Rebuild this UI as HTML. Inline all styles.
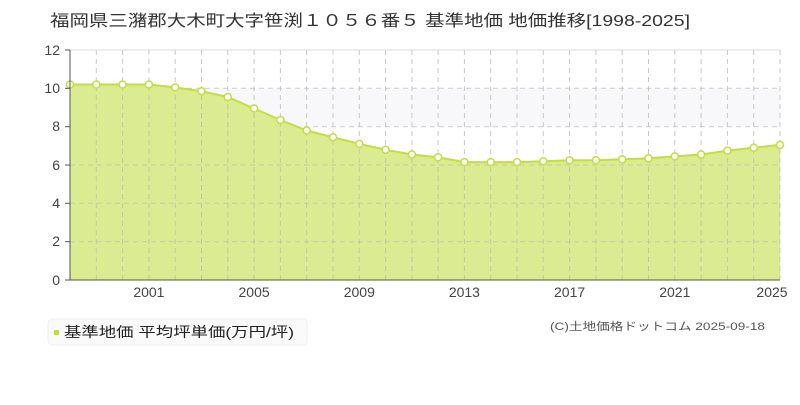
<!DOCTYPE html>
<html><head><meta charset="utf-8"><style>
body{margin:0;background:#fff;width:800px;height:400px;overflow:hidden}
text{font-family:"Liberation Sans","Noto Sans CJK JP",sans-serif}
</style></head><body>
<svg width="800" height="400" xmlns="http://www.w3.org/2000/svg">
<text x="50" y="26" font-size="16" fill="#333" textLength="640" lengthAdjust="spacingAndGlyphs">福岡県三潴郡大木町大字笹渕１０５６番５ 基準地価 地価推移[1998-2025]</text>
<rect x="70" y="88.3" width="710" height="38.3" fill="#f8f8fa"/>
<g stroke="#ccc" stroke-dasharray="5,4" stroke-width="1">
<line x1="70" y1="88.3" x2="780" y2="88.3"/><line x1="70" y1="126.7" x2="780" y2="126.7"/>
<line x1="70" y1="165" x2="780" y2="165"/><line x1="70" y1="203.3" x2="780" y2="203.3"/>
<line x1="70" y1="241.7" x2="780" y2="241.7"/>
</g>
<line x1="70" y1="50" x2="780" y2="50" stroke="#ddd"/>
<polygon fill="#dbeb91" points="70,280 70,84.5 96.3,84.5 122.6,84.5 148.9,84.5 175.2,87.4 201.5,91.2 227.8,97 254.1,108.5 280.4,120 306.7,130.5 333,137.2 359.3,143.9 385.6,149.7 411.9,154.5 438.1,157.3 464.4,162.1 490.7,162.1 517,162.1 543.3,161.2 569.6,160.2 595.9,160.2 622.2,159.3 648.5,158.3 674.8,156.4 701.1,154.5 727.4,150.6 753.7,147.7 780,144.9 780,280"/>
<g stroke="#bbb" stroke-dasharray="5,4" stroke-width="1" opacity="0.8">
<line x1="96.3" y1="50" x2="96.3" y2="280"/><line x1="122.6" y1="50" x2="122.6" y2="280"/><line x1="148.9" y1="50" x2="148.9" y2="280"/><line x1="175.2" y1="50" x2="175.2" y2="280"/><line x1="201.5" y1="50" x2="201.5" y2="280"/><line x1="227.8" y1="50" x2="227.8" y2="280"/><line x1="254.1" y1="50" x2="254.1" y2="280"/><line x1="280.4" y1="50" x2="280.4" y2="280"/><line x1="306.7" y1="50" x2="306.7" y2="280"/><line x1="333" y1="50" x2="333" y2="280"/><line x1="359.3" y1="50" x2="359.3" y2="280"/><line x1="385.6" y1="50" x2="385.6" y2="280"/><line x1="411.9" y1="50" x2="411.9" y2="280"/><line x1="438.1" y1="50" x2="438.1" y2="280"/><line x1="464.4" y1="50" x2="464.4" y2="280"/><line x1="490.7" y1="50" x2="490.7" y2="280"/><line x1="517" y1="50" x2="517" y2="280"/><line x1="543.3" y1="50" x2="543.3" y2="280"/><line x1="569.6" y1="50" x2="569.6" y2="280"/><line x1="595.9" y1="50" x2="595.9" y2="280"/><line x1="622.2" y1="50" x2="622.2" y2="280"/><line x1="648.5" y1="50" x2="648.5" y2="280"/><line x1="674.8" y1="50" x2="674.8" y2="280"/><line x1="701.1" y1="50" x2="701.1" y2="280"/><line x1="727.4" y1="50" x2="727.4" y2="280"/><line x1="753.7" y1="50" x2="753.7" y2="280"/><line x1="780" y1="50" x2="780" y2="280"/>
</g>
<g stroke="#bbb" stroke-dasharray="5,4" stroke-width="1" opacity="0.7">
<line x1="70" y1="165" x2="780" y2="165"/><line x1="70" y1="203.3" x2="780" y2="203.3"/><line x1="70" y1="241.7" x2="780" y2="241.7"/>
</g>
<polyline fill="none" stroke="#c3df3a" stroke-width="2" points="70,84.5 96.3,84.5 122.6,84.5 148.9,84.5 175.2,87.4 201.5,91.2 227.8,97 254.1,108.5 280.4,120 306.7,130.5 333,137.2 359.3,143.9 385.6,149.7 411.9,154.5 438.1,157.3 464.4,162.1 490.7,162.1 517,162.1 543.3,161.2 569.6,160.2 595.9,160.2 622.2,159.3 648.5,158.3 674.8,156.4 701.1,154.5 727.4,150.6 753.7,147.7 780,144.9"/>
<g fill="#fff" stroke="#c3df3a" stroke-width="1.5">
<circle cx="70" cy="84.5" r="3.5"/><circle cx="96.3" cy="84.5" r="3.5"/><circle cx="122.6" cy="84.5" r="3.5"/><circle cx="148.9" cy="84.5" r="3.5"/><circle cx="175.2" cy="87.4" r="3.5"/><circle cx="201.5" cy="91.2" r="3.5"/><circle cx="227.8" cy="97" r="3.5"/><circle cx="254.1" cy="108.5" r="3.5"/><circle cx="280.4" cy="120" r="3.5"/><circle cx="306.7" cy="130.5" r="3.5"/><circle cx="333" cy="137.2" r="3.5"/><circle cx="359.3" cy="143.9" r="3.5"/><circle cx="385.6" cy="149.7" r="3.5"/><circle cx="411.9" cy="154.5" r="3.5"/><circle cx="438.1" cy="157.3" r="3.5"/><circle cx="464.4" cy="162.1" r="3.5"/><circle cx="490.7" cy="162.1" r="3.5"/><circle cx="517" cy="162.1" r="3.5"/><circle cx="543.3" cy="161.2" r="3.5"/><circle cx="569.6" cy="160.2" r="3.5"/><circle cx="595.9" cy="160.2" r="3.5"/><circle cx="622.2" cy="159.3" r="3.5"/><circle cx="648.5" cy="158.3" r="3.5"/><circle cx="674.8" cy="156.4" r="3.5"/><circle cx="701.1" cy="154.5" r="3.5"/><circle cx="727.4" cy="150.6" r="3.5"/><circle cx="753.7" cy="147.7" r="3.5"/><circle cx="780" cy="144.9" r="3.5"/>
</g>
<line x1="70" y1="50" x2="70" y2="280" stroke="#555"/>
<line x1="70" y1="280" x2="780" y2="280" stroke="#555"/>
<g stroke="#555">
<line x1="65" y1="50" x2="70" y2="50"/><line x1="65" y1="88.3" x2="70" y2="88.3"/><line x1="65" y1="126.7" x2="70" y2="126.7"/><line x1="65" y1="165" x2="70" y2="165"/><line x1="65" y1="203.3" x2="70" y2="203.3"/><line x1="65" y1="241.7" x2="70" y2="241.7"/><line x1="65" y1="280" x2="70" y2="280"/>
</g>
<g font-size="14" fill="#444" text-anchor="end">
<text x="60" y="55">12</text><text x="60" y="93">10</text><text x="60" y="131">8</text><text x="60" y="170">6</text><text x="60" y="208">4</text><text x="60" y="246">2</text><text x="60" y="285">0</text>
</g>
<g font-size="14" fill="#444" text-anchor="middle">
<text x="148.9" y="297">2001</text><text x="254.1" y="297">2005</text><text x="359.3" y="297">2009</text><text x="464.4" y="297">2013</text><text x="569.6" y="297">2017</text><text x="674.8" y="297">2021</text><text x="772" y="297">2025</text>
</g>
<rect x="48" y="319" width="259" height="26" rx="4" fill="#fafafa" stroke="#eee"/>
<rect x="54" y="330" width="5" height="5" fill="#c3df3a"/>
<text x="64" y="337" font-size="14" fill="#222" textLength="230" lengthAdjust="spacingAndGlyphs">基準地価 平均坪単価(万円/坪)</text>
<text x="550" y="330" font-size="11" fill="#555" textLength="215" lengthAdjust="spacingAndGlyphs">(C)土地価格ドットコム 2025-09-18</text>
</svg>
</body></html>
